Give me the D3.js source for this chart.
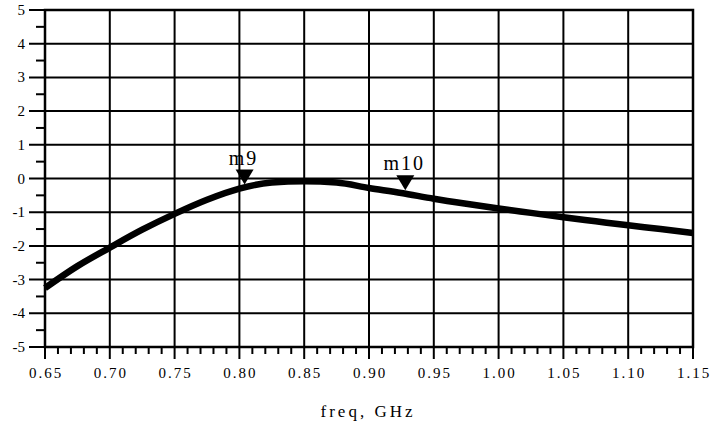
<!DOCTYPE html>
<html><head><meta charset="utf-8">
<script src="https://cdn.jsdelivr.net/npm/d3@7"></script>
<style>body{margin:0;background:#fff}svg{display:block}</style>
</head><body><svg id="c" width="711" height="427"></svg>
<script>
const freq = [0.65,0.675,0.70,0.725,0.75,0.775,0.80,0.825,0.85,0.875,0.90,0.925,0.95,0.975,1.00,1.025,1.05,1.075,1.10,1.125,1.15];
const gain = [-3.25,-2.6,-2.05,-1.52,-1.05,-0.63,-0.3,-0.12,-0.08,-0.12,-0.28,-0.43,-0.6,-0.75,-0.89,-1.02,-1.15,-1.27,-1.39,-1.5,-1.62];
const xTicks = [0.65,0.70,0.75,0.80,0.85,0.90,0.95,1.00,1.05,1.10,1.15];
const yTicks = [-5,-4,-3,-2,-1,0,1,2,3,4,5];
const markerNames = ["m9","m10"];
const markerFreq = [0.804,0.928];
const markerVal = [-0.27,-0.44];
const xTitle = "freq, GHz";

const svg = d3.select("#c");
const L=45,R=693,T=10,B=347;
const FONT = '"Liberation Serif"';
const x = d3.scaleLinear().domain([0.65,1.15]).range([L,R]);
const y = d3.scaleLinear().domain([-5,5]).range([B,T]);

svg.append("g").selectAll("line").data(xTicks).join("line")
  .attr("x1",d=>x(d)).attr("x2",d=>x(d)).attr("y1",T).attr("y2",B+12)
  .attr("stroke","#000").attr("stroke-width",2);
svg.append("g").selectAll("line").data(yTicks).join("line")
  .attr("x1",L-16).attr("x2",R).attr("y1",d=>y(d)).attr("y2",d=>y(d))
  .attr("stroke","#000").attr("stroke-width",2);
const yMinor = d3.range(-4.5,5,1);
svg.append("g").selectAll("line").data(yMinor).join("line")
  .attr("x1",L-9).attr("x2",L).attr("y1",d=>y(d)).attr("y2",d=>y(d))
  .attr("stroke","#000").attr("stroke-width",2);
const xMinor = d3.range(0,50).map(i=>0.65+i*0.01).filter((d,i)=>i%5!==0);
svg.append("g").selectAll("line").data(xMinor).join("line")
  .attr("x1",d=>x(d)).attr("x2",d=>x(d)).attr("y1",B).attr("y2",B+7)
  .attr("stroke","#000").attr("stroke-width",2);
svg.append("rect").attr("x",L).attr("y",T).attr("width",R-L).attr("height",B-T)
  .attr("fill","none").attr("stroke","#000").attr("stroke-width",2.5);

svg.append("g").selectAll("text").data(yTicks).join("text")
  .attr("x",25).attr("y",d=>y(d)+5).attr("text-anchor","end")
  .style("font-family",FONT).style("font-size","15px").text(d=>d);
svg.append("g").selectAll("text").data(xTicks).join("text")
  .attr("x",d=>x(d)+1).attr("y",378).attr("text-anchor","middle")
  .style("font-family",FONT).style("font-size","15px").style("letter-spacing","2px")
  .text(d=>d.toFixed(2));
svg.append("text").attr("x",368).attr("y",417).attr("text-anchor","middle")
  .style("font-family",FONT).style("font-size","17px").style("letter-spacing","3px").text(xTitle);

svg.append("path").datum(freq.map((f,i)=>[f,gain[i]]))
  .attr("d",d3.line().x(d=>x(d[0])).y(d=>y(d[1])).curve(d3.curveMonotoneX))
  .attr("fill","none").attr("stroke","#000").attr("stroke-width",6.5).attr("stroke-linejoin","round");

markerNames.forEach((m,i)=>{
  const mx = x(markerFreq[i]), my = y(markerVal[i]) - 3;
  svg.append("path").attr("d",`M${mx-9},${my-15}L${mx+9},${my-15}L${mx},${my}Z`).attr("fill","#000");
  svg.append("text").attr("x",mx-1).attr("y",my-20).attr("text-anchor","middle")
    .style("font-family",FONT).style("font-size","20px").style("letter-spacing","2px").text(m);
});
</script></body></html>
